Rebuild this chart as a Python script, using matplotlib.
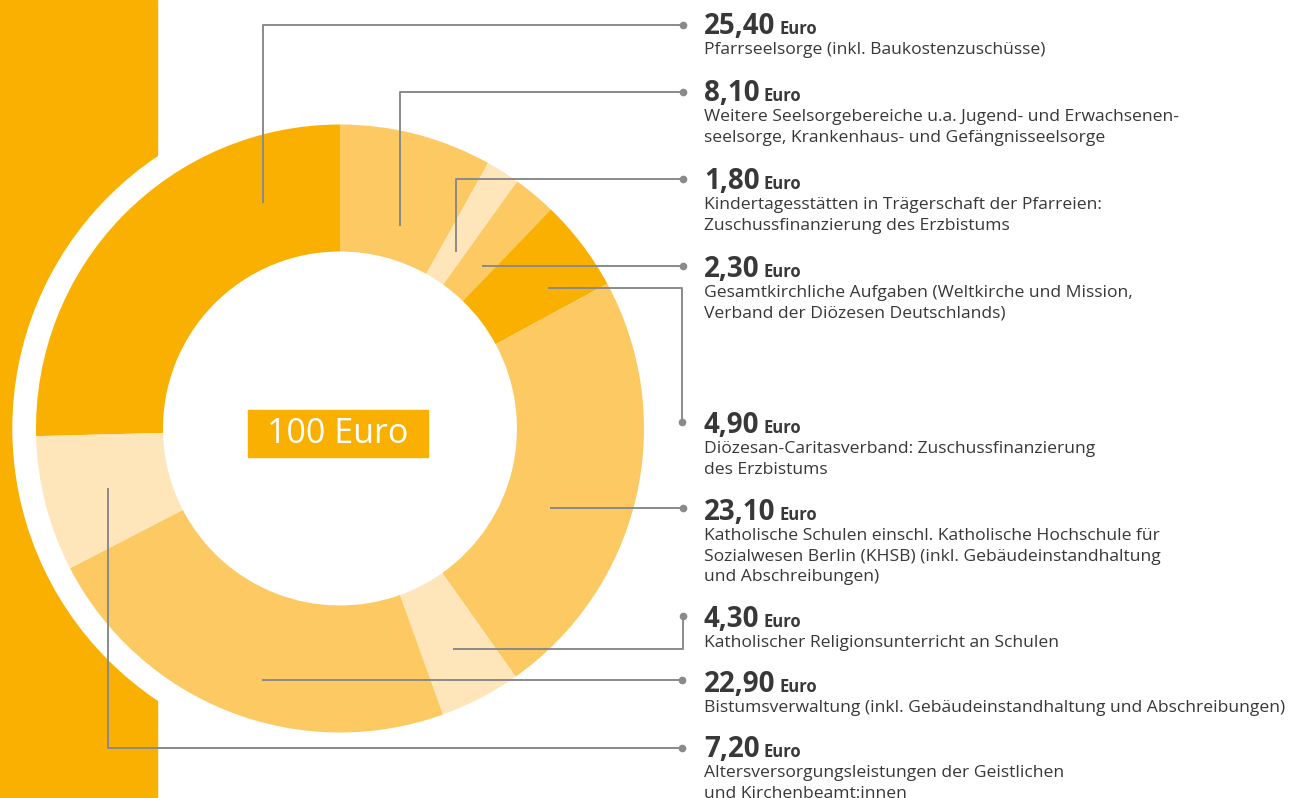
import matplotlib.pyplot as plt
from matplotlib.patches import Rectangle, Circle

W, H = 1304, 798

# chart data, legend order
values = [25.40, 8.10, 1.80, 2.30, 4.90, 23.10, 4.30, 22.90, 7.20]
value_labels = ["25,40", "8,10", "1,80", "2,30", "4,90", "23,10", "4,30", "22,90", "7,20"]
descriptions = [
    "Pfarrseelsorge (inkl. Baukostenzuschüsse)",
    "Weitere Seelsorgebereiche u.a. Jugend- und Erwachsenen-\nseelsorge, Krankenhaus- und Gefängnisseelsorge",
    "Kindertagesstätten in Trägerschaft der Pfarreien:\nZuschussfinanzierung des Erzbistums",
    "Gesamtkirchliche Aufgaben (Weltkirche und Mission,\nVerband der Diözesen Deutschlands)",
    "Diözesan-Caritasverband: Zuschussfinanzierung\ndes Erzbistums",
    "Katholische Schulen einschl. Katholische Hochschule für\nSozialwesen Berlin (KHSB) (inkl. Gebäudeinstandhaltung\nund Abschreibungen)",
    "Katholischer Religionsunterricht an Schulen",
    "Bistumsverwaltung (inkl. Gebäudeinstandhaltung und Abschreibungen)",
    "Altersversorgungsleistungen der Geistlichen\nund Kirchenbeamt:innen",
]
shades = ["dark", "mid", "pale", "mid", "dark", "mid", "pale", "mid", "pale"]
total_label = "100 Euro"

palette = {"dark": "#F9B000", "mid": "#FCC962", "pale": "#FEE6BA"}
text_color = "#383838"
line_color = "#8a8a8a"

# layout (pixels)
cx, cy, r_out, r_in = 340, 428.5, 304, 177
text_x = 704
value_baselines = [34, 101, 189, 277, 433, 520, 627, 692, 757]
leaders = [
    [(263, 203), (263, 25), (683, 25)],
    [(400, 226), (400, 92), (683, 92)],
    [(456, 252), (456, 179), (683, 179)],
    [(482, 266), (683, 266)],
    [(548, 288), (682, 288), (682, 422)],
    [(550, 508), (683, 508)],
    [(453, 649), (683, 649), (683, 616)],
    [(262, 680), (682, 680)],
    [(108, 488), (108, 748), (682, 748)],
]

plt.rcParams["font.family"] = ["Open Sans", "DejaVu Sans"]

fig = plt.figure(figsize=(W / 100, H / 100), dpi=100)
ax = fig.add_axes([0, 0, 1, 1])

# orange band and white halo around the ring
ax.add_patch(Rectangle((0, 0), 157, H, color=palette["dark"], zorder=0))
ax.add_patch(Circle((cx, cy), r_out + 23, color="white", zorder=1))

# y axis is inverted below, so start at -90 and go counterclockwise in data
# space to get a clockwise ring starting at twelve o'clock after the 25,40 slice
start = -90 - values[0] * 3.6
wedges, _ = ax.pie(values, colors=[palette[s] for s in shades], center=(cx, cy),
                   radius=r_out, startangle=start, counterclock=True,
                   wedgeprops=dict(width=r_out - r_in, linewidth=0))
for w in wedges:
    w.set_zorder(2)

ax.set_xlim(0, W)
ax.set_ylim(H, 0)
ax.set_aspect("equal")
ax.axis("off")

# center label
ax.add_patch(Rectangle((248, 410), 180, 47, color=palette["dark"], zorder=3))
ax.text(338, 434, total_label, ha="center", va="center", color="white",
        fontsize=24.5, zorder=4)

# leader lines
for pts in leaders:
    xs, ys = zip(*pts)
    ax.plot(xs, ys, color=line_color, lw=1.4, zorder=5, solid_capstyle="butt")
    ax.plot(xs[-1], ys[-1], "o", color=line_color, ms=4.5, zorder=5)

# legend texts
value_texts = []
for lbl, base, desc in zip(value_labels, value_baselines, descriptions):
    t = ax.text(text_x, base, lbl, fontsize=20, fontweight="bold",
                color=text_color, va="baseline", ha="left")
    value_texts.append(t)
    ax.text(text_x, base + 8, desc, fontsize=12.6, color=text_color,
            va="top", ha="left", linespacing=1.38)

fig.canvas.draw()
inv = ax.transData.inverted()
for t, base in zip(value_texts, value_baselines):
    bb = t.get_window_extent()
    x_end = inv.transform((bb.x1, bb.y0))[0]
    ax.text(x_end + 4, base, "Euro", fontsize=12, fontweight="bold",
            color=text_color, va="baseline", ha="left")

fig.savefig("out.png", dpi=100)
